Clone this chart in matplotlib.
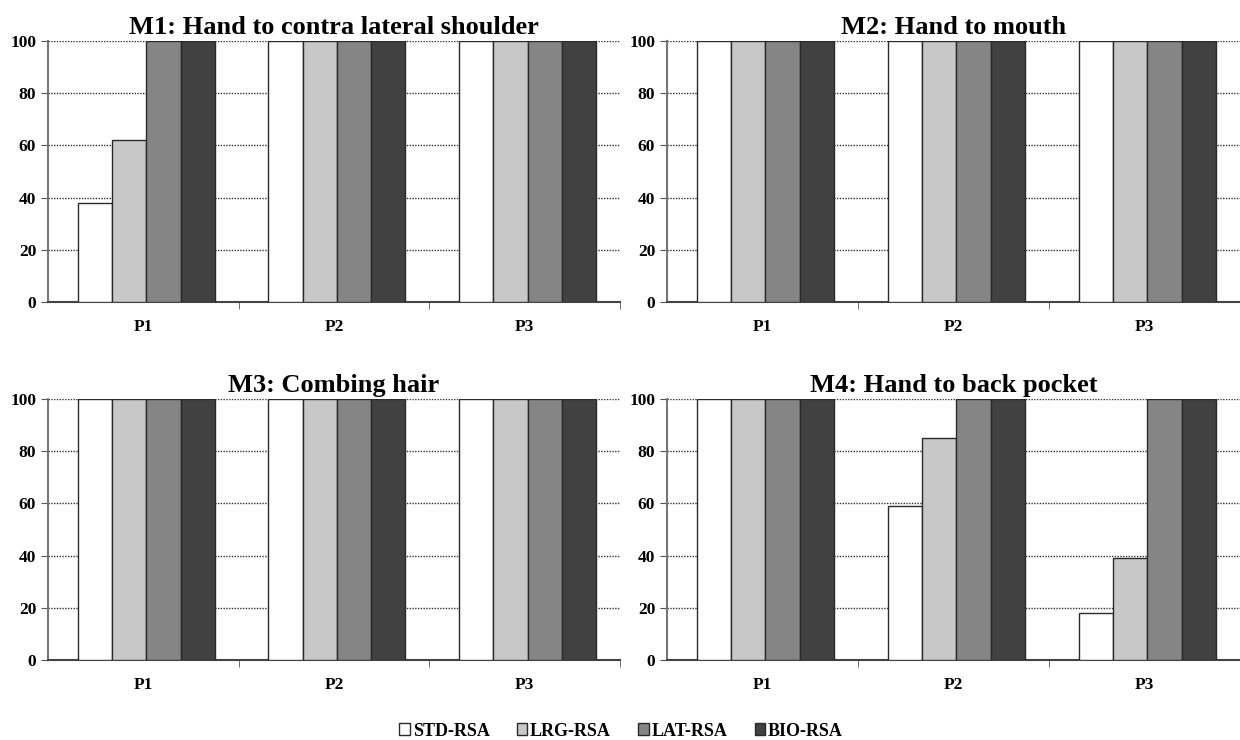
import matplotlib
matplotlib.use("Agg")
import matplotlib.pyplot as plt
import numpy as np
from matplotlib.patches import Patch

plt.rcParams['font.family'] = ['Liberation Serif', 'DejaVu Serif']
plt.rcParams['font.weight'] = 'bold'

titles = ["M1: Hand to contra lateral shoulder", "M2: Hand to mouth",
          "M3: Combing hair", "M4: Hand to back pocket"]
groups = ["P1", "P2", "P3"]
series = ["STD-RSA", "LRG-RSA", "LAT-RSA", "BIO-RSA"]
colors = ["#ffffff", "#c8c8c8", "#858585", "#414141"]

values = {
    "M1": {"STD-RSA": [38, 100, 100], "LRG-RSA": [62, 100, 100],
           "LAT-RSA": [100, 100, 100], "BIO-RSA": [100, 100, 100]},
    "M2": {"STD-RSA": [100, 100, 100], "LRG-RSA": [100, 100, 100],
           "LAT-RSA": [100, 100, 100], "BIO-RSA": [100, 100, 100]},
    "M3": {"STD-RSA": [100, 100, 100], "LRG-RSA": [100, 100, 100],
           "LAT-RSA": [100, 100, 100], "BIO-RSA": [100, 100, 100]},
    "M4": {"STD-RSA": [100, 59, 18], "LRG-RSA": [100, 85, 39],
           "LAT-RSA": [100, 100, 100], "BIO-RSA": [100, 100, 100]},
}

fig = plt.figure(figsize=(12.4, 7.4), dpi=100)
W, H = 1240, 740
rects = [(48, 41, 572, 261), (667, 41, 573, 261),
         (48, 399, 572, 261), (667, 399, 573, 261)]

bw = 0.18
x = np.arange(len(groups))
for key, title, (l, t, w, h) in zip(["M1", "M2", "M3", "M4"], titles, rects):
    ax = fig.add_axes([l / W, 1 - (t + h) / H, w / W, h / H])
    for i, s in enumerate(series):
        ax.bar(x + (i - 1.5) * bw + 0.015, values[key][s], width=bw,
               color=colors[i], edgecolor="#2a2a2a", linewidth=1.0, zorder=3)
    ax.set_xlim(-0.5, 2.5)
    ax.set_ylim(0, 100)
    ax.set_yticks([0, 20, 40, 60, 80, 100])
    ax.yaxis.grid(True, linestyle=(0, (1, 1)), color="#333333", linewidth=1.0, zorder=0)
    ax.set_axisbelow(True)
    ax.set_xticks(x)
    ax.set_xticklabels(groups, fontsize=12.5, fontweight='bold')
    ax.set_xticks([0.5, 1.5, 2.5], minor=True)
    ax.tick_params(axis='x', which='major', length=0, pad=12)
    ax.tick_params(axis='x', which='minor', length=5, direction='out', color="#555555")
    ax.tick_params(axis='y', length=5, direction='out', labelsize=12.5, color="#555555")
    for lab in ax.get_yticklabels():
        lab.set_fontweight('bold')
    ax.spines['top'].set_visible(False)
    ax.spines['right'].set_visible(False)
    ax.spines['left'].set_color("#777777")
    ax.spines['bottom'].set_color("#444444")
    ax.spines['left'].set_linewidth(1.5)
    ax.spines['bottom'].set_linewidth(1.5)
    ax.set_title(title, fontsize=19, fontweight='bold', pad=5)

handles = [Patch(facecolor=c, edgecolor="#2a2a2a", label=s) for c, s in zip(colors, series)]
fig.legend(handles=handles, loc='center', bbox_to_anchor=(621 / W, 1 - 731 / H), ncol=4,
           frameon=False, handlelength=0.6, handleheight=0.6,
           handletextpad=0.15, columnspacing=1.5, prop={'weight': 'bold', 'size': 13})

fig.savefig("out.png", dpi=100)
